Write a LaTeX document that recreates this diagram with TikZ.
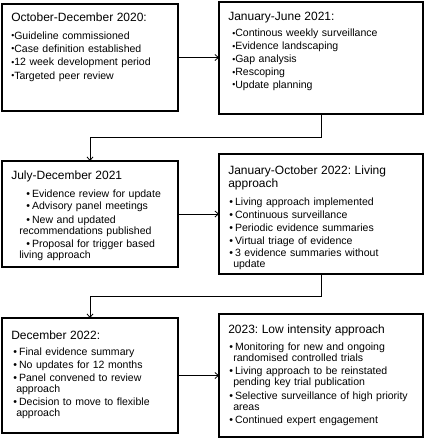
\documentclass[tikz,border=0pt]{standalone}
\usepackage{fontspec}
\setmainfont{Liberation Sans}
\usetikzlibrary{positioning,arrows.meta}
\tikzstyle{box}=[rectangle, draw=black, line width=1.3pt, inner sep=0pt, outer sep=0pt, anchor=north west]
\tikzstyle{annot}=[align=left, text width=196\pxl, inner sep=0pt, font=\fontsize{7.9}{8.25}\selectfont\frenchspacing]
\tikzstyle{conn}=[line width=0.6pt, -{Straight Barb[length=2.6pt,width=4.5pt]}]
\newlength{\pxl}\setlength{\pxl}{0.75pt}
\newcommand{\hd}[1]{{\fontsize{9}{8.8}\selectfont #1}}
\newcommand{\sbul}{{\fontsize{6.5}{6}\selectfont\raisebox{0.5pt}{•}}}
\newcommand{\bul}{•\hspace{1.6pt}}
\begin{document}
\begin{tikzpicture}[x=0.75pt,y=-0.75pt]
	\useasboundingbox (0,0) rectangle (426,440);

	\node[box, minimum width=176\pxl, minimum height=107\pxl] (b1) at (2,4) {};
	\node[box, minimum width=204\pxl, minimum height=112\pxl] (b2) at (219,2) {};
	\node[box, minimum width=176\pxl, minimum height=106\pxl] (b3) at (2,161) {};
	\node[box, minimum width=204\pxl, minimum height=120\pxl] (b4) at (219,154) {};
	\node[box, minimum width=176\pxl, minimum height=115\pxl] (b5) at (2,318) {};
	\node[box, minimum width=204\pxl, minimum height=123\pxl] (b6) at (219,314) {};

	\node[annot, below right=9\pxl and 9\pxl of b1.north west] (t1) {%
		\hd{October-December 2020:}\\[4.75pt]
		\sbul Guideline commissioned\\[1.75pt]
		\sbul Case definition established\\[1.75pt]
		\sbul 12 week development period\\[1.75pt]
		\sbul Targeted peer review};
	\node[annot, below right=9.6\pxl and 9\pxl of b2.north west] (t2) {%
		\hd{January-June 2021:}\\[4.25pt]
		\hspace*{4\pxl}\sbul Continous weekly surveillance\\[1.45pt]
		\hspace*{4\pxl}\sbul Evidence landscaping\\[1.45pt]
		\hspace*{4\pxl}\sbul Gap analysis\\[1.45pt]
		\hspace*{4\pxl}\sbul Rescoping\\[1.45pt]
		\hspace*{4\pxl}\sbul Update planning};
	\node[annot, below right=9.5\pxl and 9\pxl of b3.north west] (t3) {%
		\hd{July-December 2021}\\[5pt]
		\hspace*{15\pxl}\bul Evidence review for update\\[1.2pt]
		\hspace*{15\pxl}\bul Advisory panel meetings\\[1.75pt]
		\hspace*{15\pxl}\bul New and updated\\
		\hspace*{8\pxl}recommendations published\\[1.75pt]
		\hspace*{15\pxl}\bul Proposal for trigger based\\
		\hspace*{8\pxl}living approach};
	\node[annot, below right=11.6\pxl and 9\pxl of b4.north west] (t4) {%
		\hd{January-October 2022: Living}\\[0.5pt]
		\hd{approach}\\[5pt]
		\hspace*{1\pxl}\bul Living approach implemented\\[1.3pt]
		\hspace*{1\pxl}\bul Continuous surveillance\\[1.6pt]
		\hspace*{1\pxl}\bul Periodic evidence summaries\\[1.3pt]
		\hspace*{1\pxl}\bul Virtual triage of evidence\\[1.3pt]
		\hspace*{1\pxl}\bul 3 evidence summaries without\\
		\hspace*{5\pxl}update};
	\node[annot, below right=12.6\pxl and 9\pxl of b5.north west] (t5) {%
		\hd{December 2022:}\\[3.75pt]
		\hspace*{2\pxl}\bul Final evidence summary\\[1.3pt]
		\hspace*{2\pxl}\bul No updates for 12 months\\[1.6pt]
		\hspace*{2\pxl}\bul Panel convened to review\\
		\hspace*{5\pxl}approach\\[1.3pt]
		\hspace*{2\pxl}\bul Decision to move to flexible\\
		\hspace*{5\pxl}approach};
	\node[annot, below right=10.9\pxl and 9\pxl of b6.north west] (t6) {%
		\hd{2023: Low intensity approach}\\[4.25pt]
		\hspace*{1\pxl}\bul Monitoring for new and ongoing\\
		\hspace*{5\pxl}randomised controlled trials\\[1.75pt]
		\hspace*{1\pxl}\bul Living approach to be reinstated\\
		\hspace*{5\pxl}pending key trial publication\\[1.75pt]
		\hspace*{1\pxl}\bul Selective surveillance of high priority\\
		\hspace*{5\pxl}areas\\[1.75pt]
		\hspace*{1\pxl}\bul Continued expert engagement};

	\draw[conn] (b1.east) -- (b1.east -| b2.west);
	\draw[conn] (b3.east) -- (b3.east -| b4.west);
	\draw[conn] (b5.east) -- (b5.east -| b6.west);
	\draw[conn] (b2.south) -- ++(0,23) -| (b3.north);
	\draw[conn] (b4.south) -- ++(0,22) -| (b5.north);

\end{tikzpicture}
\end{document}
